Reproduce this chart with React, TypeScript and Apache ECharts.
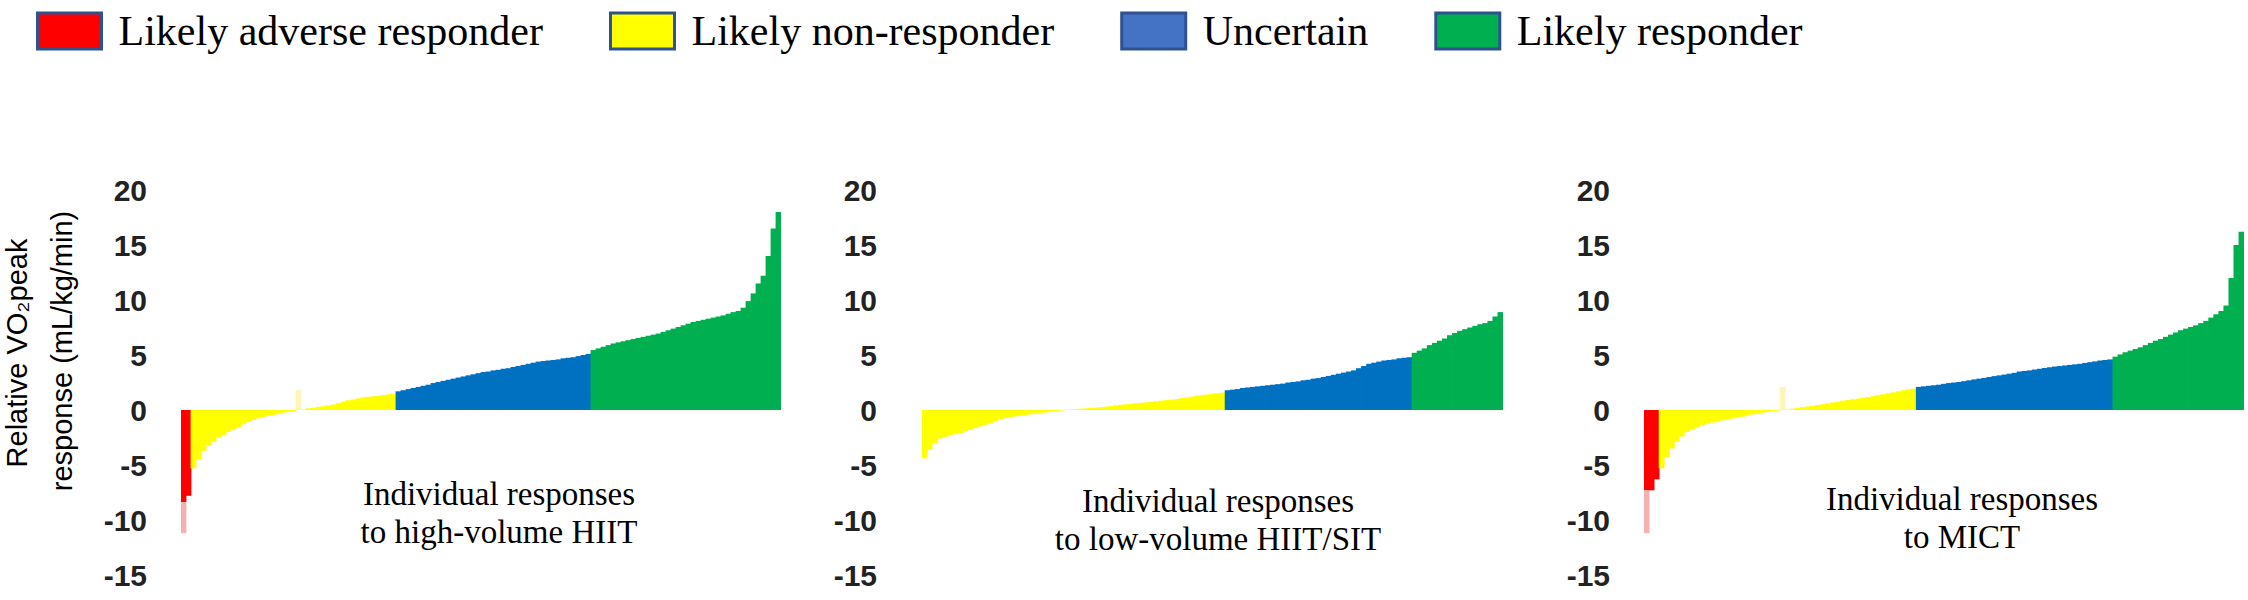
import React, { useEffect, useRef } from "react";
import * as echarts from "echarts";

// ---------- labels ----------
const LEGEND_NAMES = [
  "Likely adverse responder",
  "Likely non-responder",
  "Uncertain",
  "Likely responder",
];
const Y_TICKS = [-15, -10, -5, 0, 5, 10, 15, 20];
const Y_TITLE = ["Relative VO\u2082peak", "response (mL/kg/min)"];
const PANEL_TITLES = [
  ["Individual responses", "to high-volume HIIT"],
  ["Individual responses", "to low-volume HIIT/SIT"],
  ["Individual responses", "to MICT"],
];

// ---------- panel 1: high-volume HIIT ----------
const P1_ADVERSE = [-11.2, -7.8];
const P1_NON_NEG = [-5.3, -4.5, -3.7, -3.2, -2.9, -2.5, -2.3, -2.0, -1.8, -1.55, -1.3, -1.1, -0.9, -0.75, -0.62, -0.52, -0.45, -0.34, -0.25, -0.17, -0.1];
const P1_NON_SPIKE = [1.8];
const P1_NON_POS = [0.05, 0.15, 0.2, 0.28, 0.35, 0.42, 0.5, 0.6, 0.75, 0.88, 0.95, 1.05, 1.15, 1.2, 1.25, 1.3, 1.35, 1.42, 1.48];
const P1_UNCERTAIN = [1.7, 1.8, 1.9, 2.0, 2.1, 2.2, 2.3, 2.45, 2.55, 2.65, 2.75, 2.85, 2.95, 3.05, 3.15, 3.25, 3.35, 3.45, 3.5, 3.6, 3.65, 3.75, 3.8, 3.9, 4.0, 4.1, 4.2, 4.3, 4.4, 4.45, 4.5, 4.55, 4.6, 4.7, 4.75, 4.8, 4.9, 5.0, 5.1];
const P1_RESPONDER = [5.45, 5.6, 5.75, 5.9, 6.05, 6.15, 6.25, 6.35, 6.45, 6.55, 6.65, 6.75, 6.85, 6.95, 7.1, 7.25, 7.4, 7.55, 7.7, 7.85, 8.0, 8.1, 8.2, 8.3, 8.4, 8.5, 8.6, 8.75, 8.9, 9.0, 9.3, 9.9, 10.6, 11.5, 12.2, 14.0, 16.5, 18.0];

// ---------- panel 2: low-volume HIIT/SIT ----------
const P2_ADVERSE: number[] = [];
const P2_NON_NEG = [-4.4, -3.6, -3.0, -2.6, -2.45, -2.3, -2.2, -2.1, -1.95, -1.8, -1.65, -1.5, -1.35, -1.2, -1.0, -0.85, -0.75, -0.65, -0.58, -0.5, -0.45, -0.38, -0.32, -0.27, -0.22, -0.16, -0.1, -0.05];
const P2_NON_SPIKE: number[] = [];
const P2_NON_POS = [0.02, 0.05, 0.08, 0.12, 0.15, 0.18, 0.22, 0.26, 0.3, 0.36, 0.42, 0.48, 0.52, 0.57, 0.62, 0.66, 0.7, 0.75, 0.8, 0.85, 0.9, 0.95, 1.0, 1.08, 1.15, 1.22, 1.3, 1.36, 1.42, 1.48, 1.53, 1.58];
const P2_UNCERTAIN = [1.8, 1.85, 1.9, 2.0, 2.05, 2.1, 2.15, 2.2, 2.25, 2.3, 2.35, 2.4, 2.5, 2.55, 2.6, 2.7, 2.75, 2.85, 2.9, 3.0, 3.1, 3.2, 3.3, 3.4, 3.5, 3.6, 3.8, 4.0, 4.2, 4.3, 4.4, 4.5, 4.55, 4.6, 4.7, 4.75, 4.8];
const P2_RESPONDER = [5.2, 5.4, 5.6, 5.9, 6.1, 6.3, 6.5, 6.8, 7.0, 7.2, 7.35, 7.5, 7.65, 7.8, 7.9, 8.1, 8.5, 8.9];

// ---------- panel 3: MICT ----------
const P3_ADVERSE = [-11.2, -7.3, -6.3];
const P3_NON_NEG = [-5.3, -4.3, -3.5, -2.9, -2.4, -2.0, -1.8, -1.6, -1.4, -1.25, -1.15, -1.05, -0.95, -0.85, -0.78, -0.68, -0.6, -0.5, -0.4, -0.32, -0.25, -0.18, -0.12, -0.06];
const P3_NON_SPIKE = [2.1];
const P3_NON_POS = [0.05, 0.12, 0.2, 0.26, 0.32, 0.38, 0.45, 0.52, 0.6, 0.68, 0.76, 0.85, 0.92, 0.98, 1.04, 1.1, 1.18, 1.26, 1.35, 1.44, 1.52, 1.6, 1.7, 1.8, 1.88, 1.95];
const P3_UNCERTAIN = [2.1, 2.15, 2.2, 2.25, 2.3, 2.38, 2.45, 2.5, 2.55, 2.62, 2.7, 2.78, 2.85, 2.92, 3.0, 3.08, 3.15, 3.22, 3.3, 3.38, 3.5, 3.55, 3.6, 3.68, 3.75, 3.82, 3.88, 3.95, 4.0, 4.05, 4.1, 4.15, 4.2, 4.28, 4.35, 4.42, 4.5, 4.55, 4.6];
const P3_RESPONDER = [4.85, 5.05, 5.25, 5.4, 5.55, 5.7, 5.9, 6.1, 6.3, 6.45, 6.65, 6.85, 7.05, 7.25, 7.4, 7.55, 7.7, 7.9, 8.1, 8.4, 8.7, 9.0, 9.5, 12.0, 15.0, 16.2];

// ---------- styles ----------
const BAR_COLORS = ["#ff0000", "#ffff00", "#0070c0", "#00b050"];
const LEGEND_COLORS = ["#ff0000", "#ffff00", "#4472c4", "#00b050"];
const SPIKE_COLOR = "#fcf6b8";
const PINK = "#f6b0b0";

type Seg = { cat: number; values: number[]; pale?: boolean };

const PANELS = [
  {
    segs: [
      { cat: 0, values: P1_ADVERSE },
      { cat: 1, values: P1_NON_NEG },
      { cat: 1, values: P1_NON_SPIKE, pale: true },
      { cat: 1, values: P1_NON_POS },
      { cat: 2, values: P1_UNCERTAIN },
      { cat: 3, values: P1_RESPONDER },
    ] as Seg[],
    solidFrac: 0.75,
    grid: { left: 181, top: 190, width: 600, height: 385 },
    labelMargin: 34,
    titleX: 499,
    titleY: [494, 532],
  },
  {
    segs: [
      { cat: 0, values: P2_ADVERSE },
      { cat: 1, values: P2_NON_NEG },
      { cat: 1, values: P2_NON_SPIKE, pale: true },
      { cat: 1, values: P2_NON_POS },
      { cat: 2, values: P2_UNCERTAIN },
      { cat: 3, values: P2_RESPONDER },
    ] as Seg[],
    solidFrac: 1,
    grid: { left: 922, top: 190, width: 581, height: 385 },
    labelMargin: 45,
    titleX: 1218,
    titleY: [501, 539],
  },
  {
    segs: [
      { cat: 0, values: P3_ADVERSE },
      { cat: 1, values: P3_NON_NEG },
      { cat: 1, values: P3_NON_SPIKE, pale: true },
      { cat: 1, values: P3_NON_POS },
      { cat: 2, values: P3_UNCERTAIN },
      { cat: 3, values: P3_RESPONDER },
    ] as Seg[],
    solidFrac: 0.65,
    grid: { left: 1644, top: 190, width: 600, height: 385 },
    labelMargin: 34,
    titleX: 1962,
    titleY: [499, 537],
  },
];

function buildPanel(segs: Seg[], solidFrac: number) {
  const data: any[][] = [[], [], [], []];
  const cats: string[] = [];
  let firstAdverse = true;
  segs.forEach((s) => {
    s.values.forEach((v) => {
      cats.push(String(cats.length + 1));
      for (let k = 0; k < 4; k++) {
        if (k !== s.cat) {
          data[k].push("-");
          continue;
        }
        if (s.pale) {
          data[k].push({ value: v, itemStyle: { color: SPIKE_COLOR } });
        } else if (k === 0 && firstAdverse && solidFrac < 1) {
          firstAdverse = false;
          data[k].push({
            value: v,
            itemStyle: {
              color: new echarts.graphic.LinearGradient(0, 0, 0, 1, [
                { offset: 0, color: BAR_COLORS[0] },
                { offset: solidFrac, color: BAR_COLORS[0] },
                { offset: solidFrac, color: PINK },
                { offset: 1, color: PINK },
              ]),
            },
          });
        } else {
          data[k].push(v);
        }
      }
    });
  });
  return { data, cats };
}

export default function App() {
  const ref = useRef<HTMLDivElement>(null);

  useEffect(() => {
    if (!ref.current) return;
    const chart = echarts.init(ref.current, undefined, { renderer: "svg" });

    const grids: any[] = [];
    const xAxes: any[] = [];
    const yAxes: any[] = [];
    const series: any[] = [];
    const graphics: any[] = [];

    PANELS.forEach((p, g) => {
      const { data, cats } = buildPanel(p.segs, p.solidFrac);
      // slight overlap between neighbouring bars so no seams show
      const barW = p.grid.width / cats.length + 0.8;
      grids.push({ ...p.grid, containLabel: false });
      xAxes.push({
        type: "category",
        gridIndex: g,
        data: cats,
        show: false,
      });
      yAxes.push({
        type: "value",
        gridIndex: g,
        min: Y_TICKS[0],
        max: Y_TICKS[Y_TICKS.length - 1],
        interval: Y_TICKS[1] - Y_TICKS[0],
        axisLine: { show: false },
        axisTick: { show: false },
        splitLine: { show: false },
        axisLabel: {
          margin: p.labelMargin,
          fontSize: 30,
          fontWeight: "bold",
          fontFamily: "Liberation Sans",
          color: "#222222",
        },
      });
      for (let k = 0; k < 4; k++) {
        series.push({
          type: "bar",
          name: LEGEND_NAMES[k],
          xAxisIndex: g,
          yAxisIndex: g,
          data: data[k],
          barWidth: barW,
          barGap: "-100%",
          silent: true,
          itemStyle: { color: BAR_COLORS[k], borderWidth: 0 },
        });
      }
      p.titleY.forEach((y, i) => {
        graphics.push({
          type: "text",
          x: p.titleX,
          y,
          silent: true,
          style: {
            text: PANEL_TITLES[g][i],
            fill: "#000",
            font: '33px "Liberation Serif"',
            textAlign: "center",
            textVerticalAlign: "middle",
          },
        });
      });
    });

    // y-axis title (two rotated lines)
    [
      { x: 17, y: 353 },
      { x: 62, y: 351 },
    ].forEach((pos, i) => {
      graphics.push({
        type: "text",
        x: pos.x,
        y: pos.y,
        rotation: Math.PI / 2,
        silent: true,
        style: {
          text: Y_TITLE[i],
          fill: "#000",
          font: '29px "Liberation Sans"',
          textAlign: "center",
          textVerticalAlign: "middle",
        },
      });
    });

    chart.setOption({
      animation: false,
      backgroundColor: "#ffffff",
      legend: {
        left: 31,
        top: 5,
        icon: "rect",
        itemWidth: 64,
        itemHeight: 36,
        itemGap: 66,
        selectedMode: false,
        itemStyle: { borderColor: "#2f528f", borderWidth: 3 },
        textStyle: {
          fontFamily: "Liberation Serif",
          fontSize: 42,
          color: "#000",
          padding: [0, 0, 0, 12],
        },
        data: LEGEND_NAMES.map((n, k) => ({
          name: n,
          itemStyle: {
            color: LEGEND_COLORS[k],
            borderColor: "#2f528f",
            borderWidth: 3,
          },
        })),
      },
      grid: grids,
      xAxis: xAxes,
      yAxis: yAxes,
      series,
      graphic: graphics,
    });

    return () => chart.dispose();
  }, []);

  return (
    <div
      ref={ref}
      style={{ position: "absolute", left: 0, top: 0, width: 2248, height: 600 }}
    />
  );
}
